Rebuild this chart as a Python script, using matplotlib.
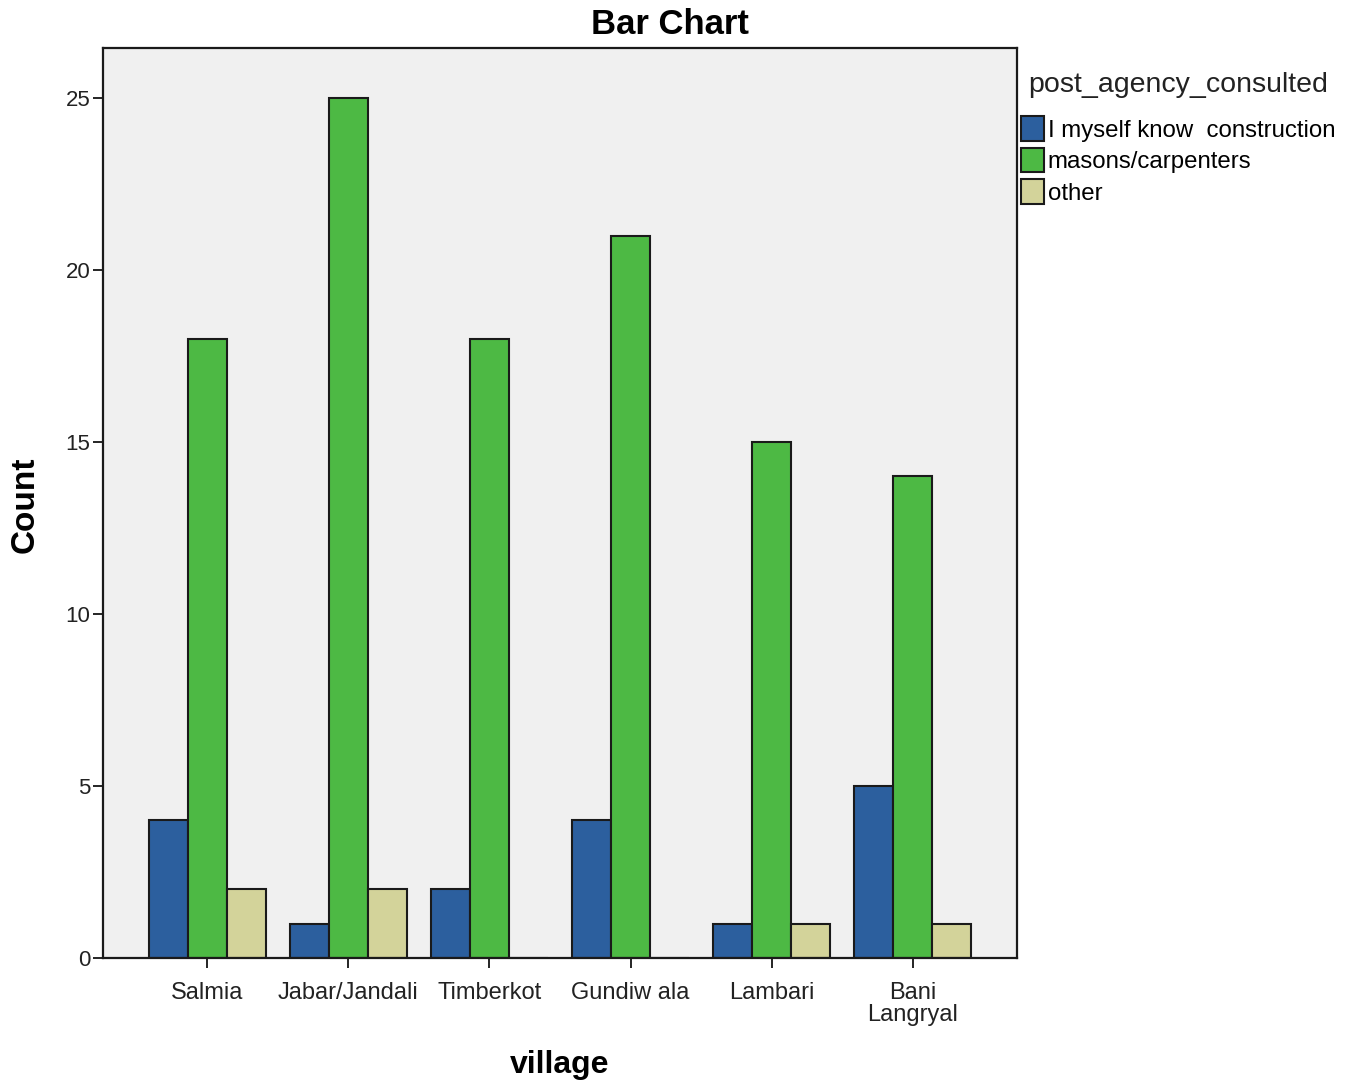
import numpy as np
import matplotlib.pyplot as plt

plt.rcParams['font.family'] = ['Liberation Sans', 'DejaVu Sans']

# village names and counts per post agency consulted
villages = ['Salmia', 'Jabar/Jandali', 'Timberkot', 'Gundiw ala', 'Lambari', 'Bani\nLangryal']
myself_know = [4, 1, 2, 4, 1, 5]
masons_carpenters = [18, 25, 18, 21, 15, 14]
other = [2, 2, 0, 0, 1, 1]

series = ['I myself know  construction', 'masons/carpenters', 'other']
colors = ['#2c5f9e', '#4db944', '#d3d39a']

fig = plt.figure(figsize=(13.49, 10.86), dpi=100)
ax = fig.add_axes([103 / 1349, 1 - 958 / 1086, (1017 - 103) / 1349, (958 - 48) / 1086])
ax.set_facecolor('#f0f0f0')

x = np.arange(len(villages))
width = 0.277
handles = []
for i, (vals, c, lab) in enumerate(zip([myself_know, masons_carpenters, other], colors, series)):
    b = ax.bar(x + (i - 1) * width, vals, width, color=c, edgecolor='#1a1a1a',
               linewidth=1.5, label=lab)
    handles.append(b)

ax.set_xlim(-0.74, 5.74)
ax.set_ylim(0, 26.45)
ax.set_yticks([0, 5, 10, 15, 20, 25])
ax.set_xticks(x)
ax.set_xticklabels(villages, fontsize=17, linespacing=1.0, color='#222222')
ax.tick_params(axis='y', labelsize=16, length=7, width=1.2, pad=2, labelcolor='#222222')
ax.tick_params(axis='x', length=7, width=1.2, pad=10)
for s in ax.spines.values():
    s.set_linewidth(1.6)
    s.set_color('#1a1a1a')

fig.text(670 / 1349, 1 - 25 / 1086, 'Bar Chart', ha='center', va='center',
         fontsize=25, fontweight='bold')
fig.text(25 / 1349, 1 - 505 / 1086, 'Count', ha='center', va='center',
         rotation=90, fontsize=24, fontweight='bold')
fig.text(560 / 1349, 1 - 1065 / 1086, 'village', ha='center', va='center',
         fontsize=23, fontweight='bold')
fig.text(1028 / 1349, 1 - 85 / 1086, 'post_agency_consulted', ha='left', va='center',
         fontsize=20.5, color='#222222')

leg = fig.legend(handles=handles, loc='upper left', bbox_to_anchor=(1019 / 1349, 1 - 114 / 1086),
                 frameon=False, fontsize=17.3, handlelength=0.95, handleheight=1.2,
                 handletextpad=0.15, labelspacing=0.25, borderaxespad=0, borderpad=0.1)

fig.savefig('out.png', dpi=100)
